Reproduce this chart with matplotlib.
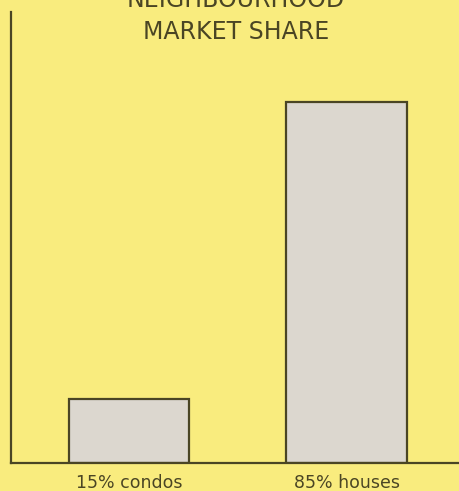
import matplotlib.pyplot as plt

categories = ['condos', 'houses']
shares = [15, 85]
tick_labels = [f'{v}% {c}' for v, c in zip(shares, categories)]
title_lines = ['NEIGHBOURHOOD', 'MARKET SHARE']

bg = '#F9EC7E'
ink = '#4A4524'
bar_fill = '#DCD7CF'

plt.rcParams['font.family'] = ['DejaVu Sans']

W, H = 459, 491
fig = plt.figure(figsize=(W / 100, H / 100), dpi=100, facecolor=bg)
ax = fig.add_axes([11 / W, (H - 463) / H, (W - 11) / W, (463 - 12) / H])
ax.set_facecolor(bg)

x = list(range(len(categories)))
ax.bar(x, shares, width=0.552, color=bar_fill, edgecolor=ink, linewidth=1.6)

ax.set_xlim(-0.5425, 1.517)
ax.set_ylim(0, 106.2)
ax.set_yticks([])
ax.set_xticks(x)
ax.set_xticklabels(tick_labels, fontsize=12.5, color=ink)
ax.tick_params(axis='x', length=0, pad=8)

for side in ['top', 'right']:
    ax.spines[side].set_visible(False)
for side in ['left', 'bottom']:
    ax.spines[side].set_color(ink)
    ax.spines[side].set_linewidth(1.6)

# two-line title, first line partly cut off at the top as in the source
fig.text(236 / W, 1 - 7 / H, title_lines[0], ha='center', va='baseline',
         fontsize=17, color=ink)
fig.text(236 / W, 1 - 39 / H, title_lines[1], ha='center', va='baseline',
         fontsize=17, color=ink)

fig.savefig('out.png', dpi=100, facecolor=bg)
